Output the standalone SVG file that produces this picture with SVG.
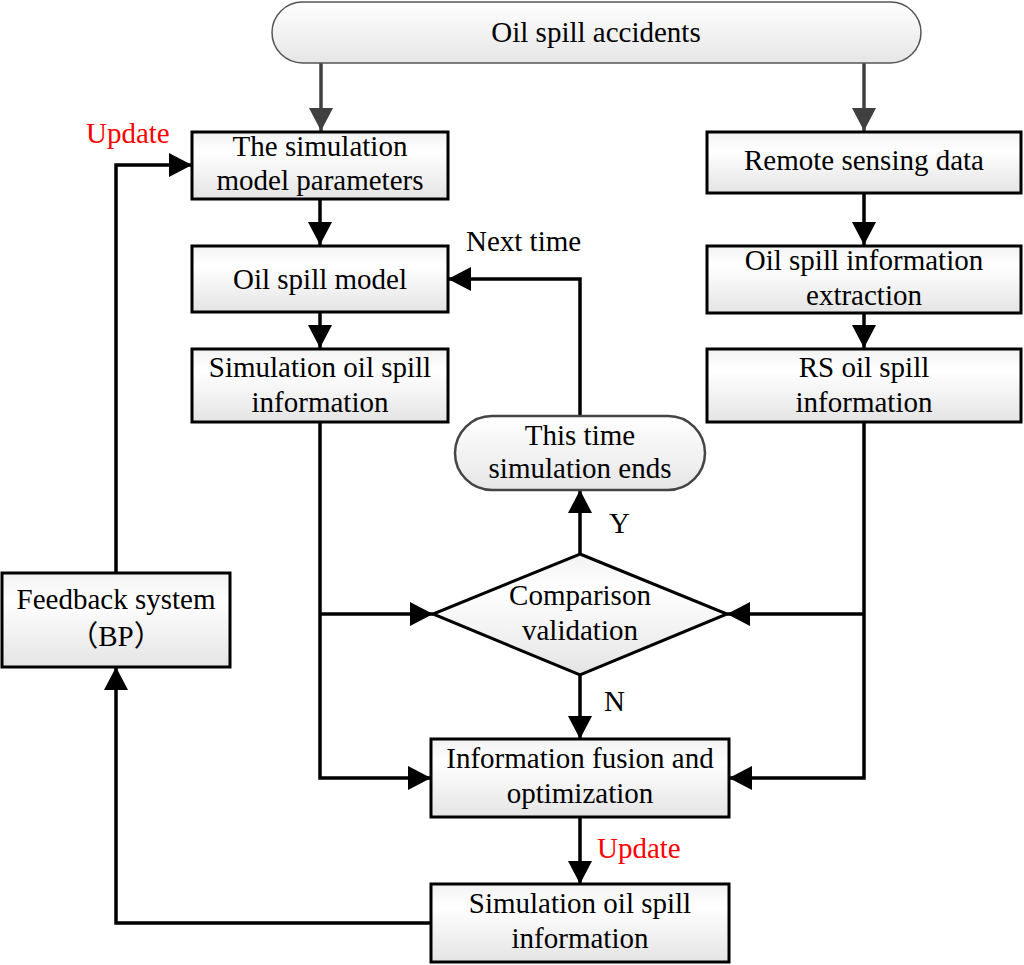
<svg xmlns="http://www.w3.org/2000/svg" width="1024" height="965" viewBox="0 0 1024 965">
<style>
.box{stroke:#000;stroke-width:3;fill:url(#g)}
.term{stroke:#444;stroke-width:2.5;fill:url(#g2)}
.t{font-family:"Liberation Serif","Times New Roman","Noto Sans CJK SC",serif;font-size:29px;fill:#000;text-anchor:middle}
.lbl{font-family:"Liberation Serif","Times New Roman",serif;font-size:29px;fill:#000}
.red{fill:#ff0000}
.c{fill:none;stroke:#000;stroke-width:3.5;marker-end:url(#a)}
.cg{fill:none;stroke:#404040;stroke-width:3.5;marker-end:url(#ag)}
</style>
<defs>
<linearGradient id="g" x1="0" y1="0" x2="0" y2="1">
<stop offset="0" stop-color="#f2f2f2"/>
<stop offset="0.3" stop-color="#ffffff"/>
<stop offset="1" stop-color="#e4e4e4"/>
</linearGradient>
<linearGradient id="g2" x1="0" y1="0" x2="0" y2="1">
<stop offset="0" stop-color="#ffffff"/>
<stop offset="1" stop-color="#e6e6e6"/>
</linearGradient>
<marker id="a" markerUnits="userSpaceOnUse" markerWidth="24" markerHeight="24" refX="23" refY="12" orient="auto">
<path d="M0,0 L23,12 L0,24 z" fill="#000"/>
</marker>
<marker id="ag" markerUnits="userSpaceOnUse" markerWidth="24" markerHeight="24" refX="23" refY="12" orient="auto">
<path d="M0,0 L23,12 L0,24 z" fill="#404040"/>
</marker>
</defs>
<rect width="1024" height="965" fill="#fff"/>

<g id="connectors">
<path class="cg" d="M321,63 V131"/>
<path class="cg" d="M864,63 V131"/>
<path class="c" d="M320,199 V245"/>
<path class="c" d="M320,312 V348"/>
<path class="c" d="M864,193 V245"/>
<path class="c" d="M864,313 V348"/>
<path class="c" d="M320,422 V778 H431"/>
<path class="c" d="M320,614 H433"/>
<path class="c" d="M864,422 V778 H729"/>
<path class="c" d="M864,614 H727"/>
<path class="c" d="M580,554 V490"/>
<path class="c" d="M580,416 V279 H448"/>
<path class="c" d="M580,675 V739"/>
<path class="c" d="M580,817 V884"/>
<path class="c" d="M431,923 H116 V667"/>
<path class="c" d="M116,573 V165 H192"/>
</g>

<g id="labels">
<text class="lbl" x="466" y="251">Next time</text>
<text class="lbl red" x="86" y="143">Update</text>
<text class="lbl red" x="597" y="858">Update</text>
<text class="lbl" x="609" y="533">Y</text>
<text class="lbl" x="604" y="711">N</text>
</g>

<g id="n-accidents">
<rect x="272" y="2" width="649" height="61" rx="30.5" fill="url(#g2)" stroke="#555" stroke-width="1.5"/>
<text class="t" x="596" y="42">Oil spill accidents</text>
</g>

<g id="n-params">
<rect class="box" x="192" y="132" width="256" height="67"/>
<text class="t" x="320" y="156">The simulation</text>
<text class="t" x="320" y="190">model parameters</text>
</g>

<g id="n-model">
<rect class="box" x="192" y="246" width="256" height="66"/>
<text class="t" x="320" y="289">Oil spill model</text>
</g>

<g id="n-sim1">
<rect class="box" x="192" y="349" width="256" height="73"/>
<text class="t" x="320" y="377">Simulation oil spill</text>
<text class="t" x="320" y="412">information</text>
</g>

<g id="n-remote">
<rect class="box" x="707" y="132" width="314" height="61"/>
<text class="t" x="864" y="170">Remote sensing data</text>
</g>

<g id="n-extract">
<rect class="box" x="707" y="246" width="314" height="67"/>
<text class="t" x="864" y="270">Oil spill information</text>
<text class="t" x="864" y="305">extraction</text>
</g>

<g id="n-rs">
<rect class="box" x="707" y="349" width="314" height="73"/>
<text class="t" x="864" y="377">RS oil spill</text>
<text class="t" x="864" y="412">information</text>
</g>

<g id="n-ends">
<rect class="term" x="455" y="416" width="250" height="74" rx="37"/>
<text class="t" x="580" y="445">This time</text>
<text class="t" x="580" y="478">simulation ends</text>
</g>

<g id="n-compare">
<polygon class="box" points="580,554 727,614 580,675 433,614"/>
<text class="t" x="580" y="605">Comparison</text>
<text class="t" x="580" y="640">validation</text>
</g>

<g id="n-fusion">
<rect class="box" x="431" y="739" width="298" height="78"/>
<text class="t" x="580" y="768">Information fusion and</text>
<text class="t" x="580" y="803">optimization</text>
</g>

<g id="n-sim2">
<rect class="box" x="431" y="884" width="298" height="78"/>
<text class="t" x="580" y="913">Simulation oil spill</text>
<text class="t" x="580" y="948">information</text>
</g>

<g id="n-feedback">
<rect class="box" x="2" y="573" width="228" height="94"/>
<text class="t" x="116" y="609">Feedback system</text>
<text class="t" x="116" y="646">（BP）</text>
</g>
</svg>
